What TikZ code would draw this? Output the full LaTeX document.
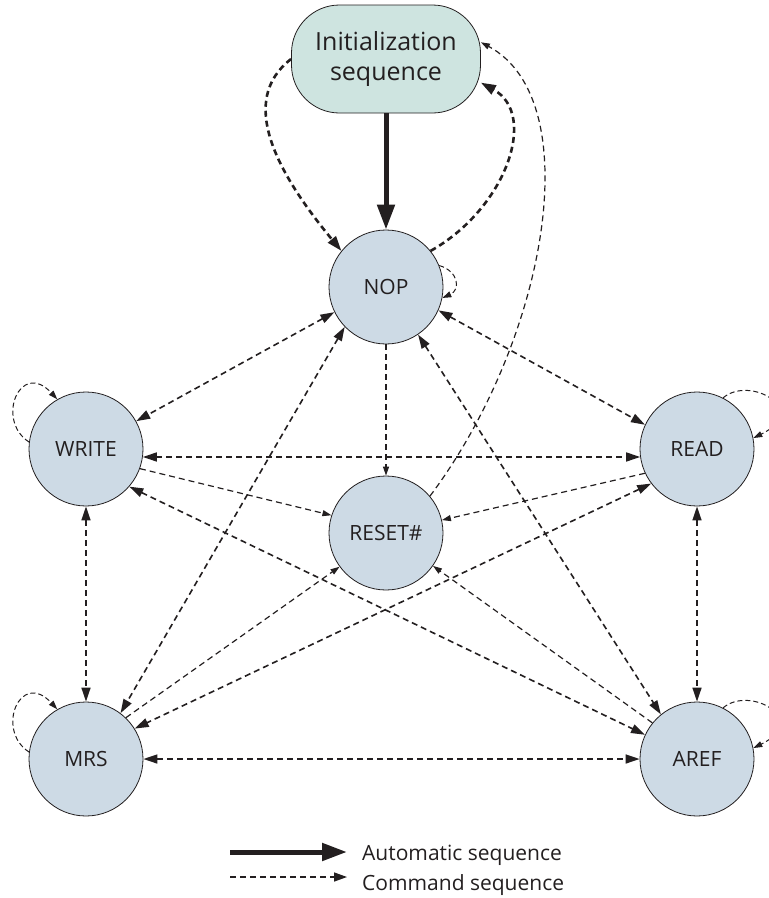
\documentclass[tikz,border=0pt]{standalone}
\usepackage{fontspec}
\setmainfont{Open Sans}
\usetikzlibrary{arrows.meta}
\definecolor{ink}{RGB}{35,31,32}
\definecolor{statefill}{RGB}{205,218,229}
\definecolor{initfill}{RGB}{206,228,224}

\begin{document}
\begin{tikzpicture}[x=1pt,y=1pt]
	\tikzstyle{every node}+=[inner sep=0pt, text=ink]
	\tikzstyle{state}=[circle, draw=ink, line width=0.8pt, fill=statefill, minimum size=114pt, font=\fontsize{21}{25}\selectfont]
	\tikzstyle{startbox}=[rectangle, rounded corners=48pt, draw=ink, line width=0.8pt, fill=initfill, minimum width=189pt, minimum height=108pt, align=center, font=\fontsize{25}{30}\selectfont]
	\tikzstyle{legendtext}=[anchor=base west, font=\fontsize{21}{25}\selectfont]
	\tikzstyle{autoline}=[ink, line width=5pt, -{Triangle[length=25pt,width=17pt]}]
	\tikzstyle{cmdinit}=[ink, line width=2.6pt, dash pattern=on 6pt off 4pt, -{Triangle[length=15pt,width=10pt]}]
	\tikzstyle{cmdboth}=[ink, line width=1.6pt, dash pattern=on 6pt off 4pt, {Triangle[length=14pt,width=9pt]}-{Triangle[length=14pt,width=9pt]}]
	\tikzstyle{cmdone}=[ink, line width=1.2pt, dash pattern=on 6pt off 4pt, -{Triangle[length=9pt,width=6pt]}]
	\tikzstyle{cmdloop}=[ink, line width=1pt, dash pattern=on 5pt off 3pt, -{Triangle[length=9pt,width=6pt]}]
	\tikzstyle{cmdlegend}=[ink, line width=1.4pt, dash pattern=on 6pt off 4pt, -{Triangle[length=13pt,width=9pt]}]
	\useasboundingbox (0,0) rectangle (769,-898);
	\node [startbox] (init) at (386,-59) {Initialization\\sequence};
	\node [state] (nop) at (386,-287) {NOP};
	\node [state] (write) at (86,-449) {WRITE};
	\node [state] (read) at (697,-449) {READ};
	\node [state] (reset) at (386,-533) {RESET\#};
	\node [state] (mrs) at (86,-759) {MRS};
	\node [state] (aref) at (697,-759) {AREF};
	\draw [autoline] (init) -- (nop);
	\draw [cmdinit] (init.west) .. controls +(-53,-41) and +(-66,80) .. (nop.141);
	\draw [cmdinit] (nop.39) .. controls +(75,42) and +(58,-32) .. (init.-14);
	\draw [cmdone] (reset.40) .. controls +(117,156) and +(108,-58) .. (init.10);
	\draw [cmdloop] (nop.22) .. controls +(20,-6) and +(18,8) .. (nop.-11);
	\draw [cmdboth] (nop.206) -- (write.29);
	\draw [cmdboth] (nop.336) -- (read.155);
	\draw [cmdboth] (nop.224) -- (mrs.53);
	\draw [cmdboth] (nop.304) -- (aref.129);
	\draw [cmdone] (nop) -- (reset);
	\draw [cmdboth] (write.352) -- (read.188);
	\draw [cmdone] (write.340) -- (reset.162);
	\draw [cmdone] (read.205) -- (reset.13);
	\draw [cmdboth] (write.319) -- (aref.155);
	\draw [cmdboth] (read.217) -- (mrs.32);
	\draw [cmdone] (mrs.46) -- (reset.216);
	\draw [cmdone] (aref.141) -- (reset.325);
	\draw [cmdboth] (write) -- (mrs);
	\draw [cmdboth] (read) -- (aref);
	\draw [cmdboth] (mrs) -- (aref);
	\draw [cmdloop] (write.173) .. controls +(-34,22) and +(-37,40) .. (write.120);
	\draw [cmdloop] (mrs.173) .. controls +(-34,22) and +(-37,40) .. (mrs.120);
	\draw [cmdloop] (read.63) .. controls +(27,23) and +(57,28) .. (read.11);
	\draw [cmdloop] (aref.63) .. controls +(27,23) and +(57,28) .. (aref.11);
	\coordinate (autostart) at (230,-852);
	\coordinate (autoend) at (347,-852);
	\draw [autoline] (autostart) -- (autoend);
	\node [legendtext] (autolabel) at (362,-860) {Automatic sequence};
	\coordinate (cmdstart) at (230,-877);
	\coordinate (cmdend) at (347,-877);
	\draw [cmdlegend] (cmdstart) -- (cmdend);
	\node [legendtext] (cmdlabel) at (362,-890) {Command sequence};
\end{tikzpicture}
\end{document}
